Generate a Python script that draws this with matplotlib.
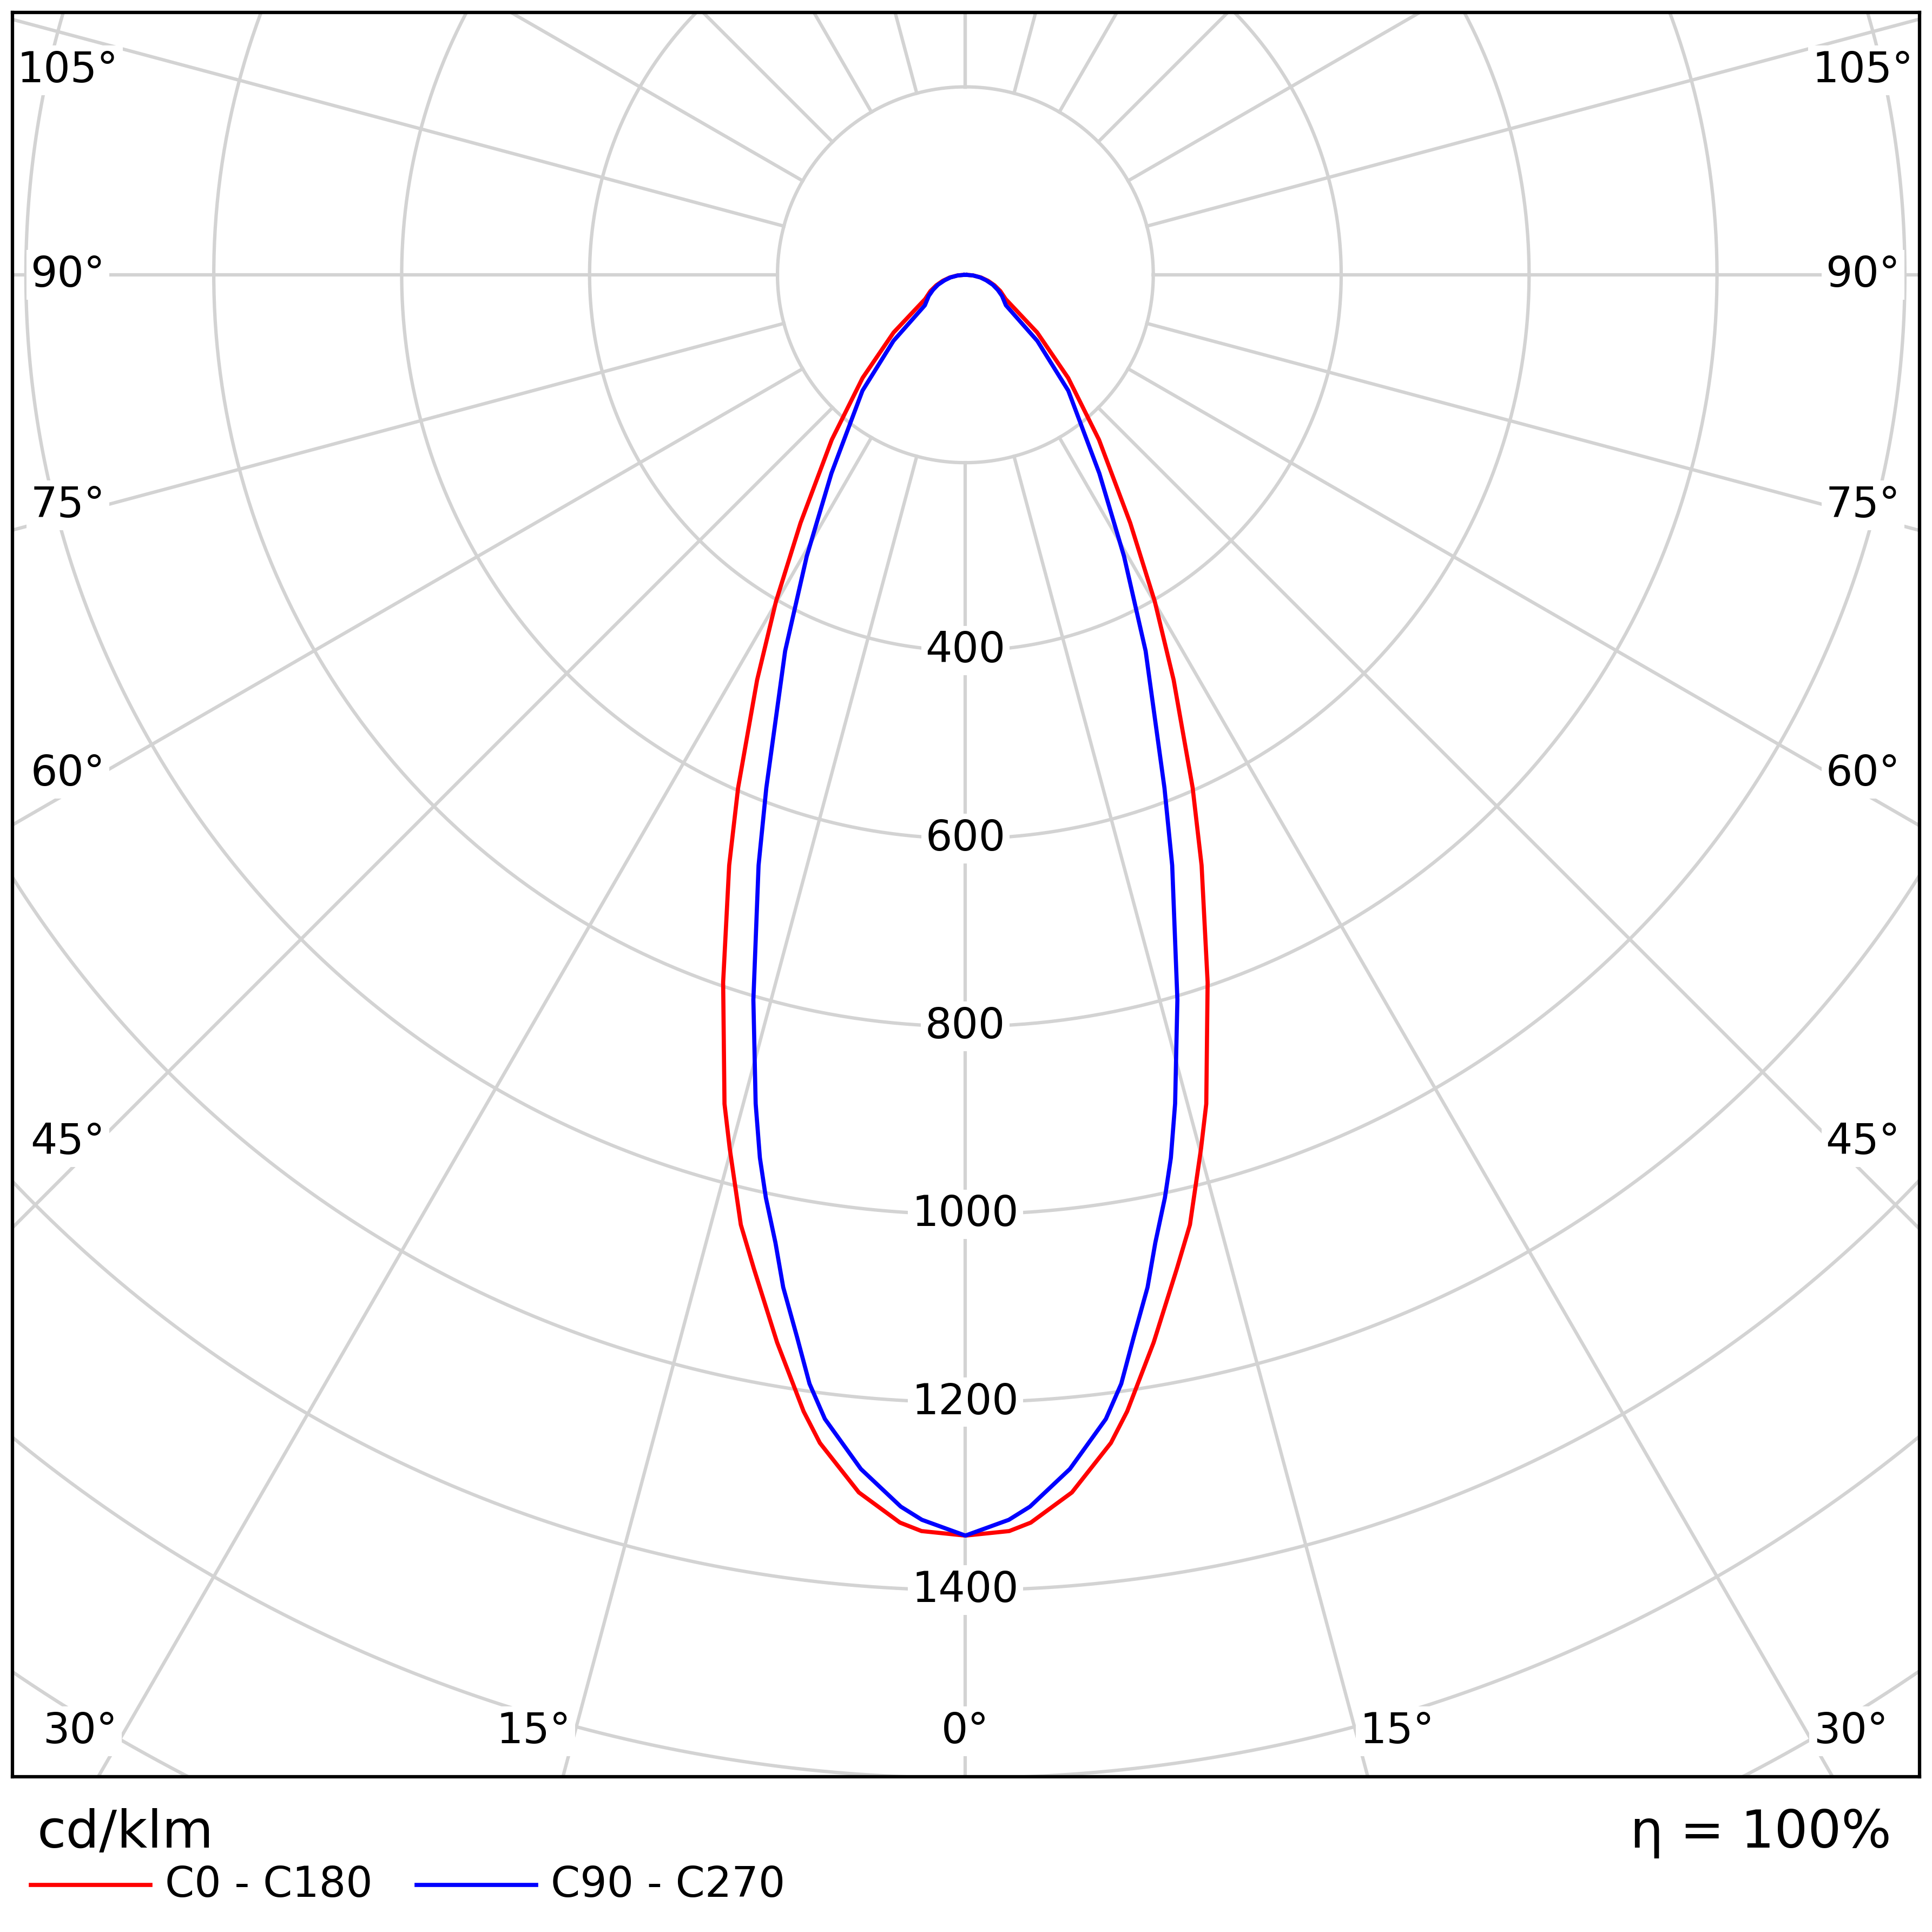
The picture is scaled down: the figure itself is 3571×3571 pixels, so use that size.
import numpy as np
import matplotlib.pyplot as plt
from matplotlib.lines import Line2D

# Luminous intensity distribution (cd/klm), gamma in degrees from nadir
gamma_c0 = [0, 2, 3, 5, 7.1, 8.1, 10, 12, 13.3, 15.1, 16.2, 18.9, 21.8, 23.9, 27.2,
            30.1, 33.6, 39, 44.9, 51.2, 58.9, 65, 70, 75, 80, 85, 90]
int_c0 = [1342, 1338, 1330, 1301, 1253, 1222, 1154, 1082, 1039, 963, 919, 796, 677, 597, 485,
          402, 317, 226, 155, 98, 50, 41, 33, 25, 17, 8.5, 0]

gamma_c90 = [0, 2, 3, 5, 7, 8, 9, 10.2, 11.1, 12.2, 13.1, 14.2, 16.3, 19.3, 21.2,
             25.6, 29.4, 34, 41.6, 47.4, 53, 60, 65, 70, 75, 80, 85, 90]
int_c90 = [1342, 1326, 1313, 1276, 1227, 1192, 1145, 1095, 1050, 1005, 965, 910, 804, 666, 586,
           444, 344, 255, 165, 104, 54, 45, 38, 31, 23, 16, 8, 0]

ring_values = [200, 400, 600, 800, 1000, 1200, 1400, 1600, 1800, 2000, 2200]
ring_labels = [400, 600, 800, 1000, 1200, 1400]
spoke_angles = list(range(-180, 181, 15))

GRID = '#d3d3d3'
W = 1568.0  # reference layout units
S = 200 / 152.5  # data units per layout px
FS = 56


def to_data(X, Y):
    return (X - 783.5) * S, -(Y - 223) * S


def polar_xy(g, r):
    g = np.radians(np.asarray(g, float))
    r = np.asarray(r, float)
    return r * np.sin(g), -r * np.cos(g)


fig = plt.figure(figsize=(35.71, 35.71), dpi=100)
ax = fig.add_axes([10 / W, 1 - 1442 / W, 1548 / W, 1432 / W])
x0, _ = to_data(10, 0)
x1, _ = to_data(1558, 0)
_, y1 = to_data(0, 10)
_, y0 = to_data(0, 1442)
ax.set_xlim(x0, x1)
ax.set_ylim(y0, y1)
ax.set_xticks([])
ax.set_yticks([])
for s in ax.spines.values():
    s.set_linewidth(4.5)
    s.set_color('black')
    s.set_zorder(10)

# grid circles and spokes
t = np.linspace(0, 2 * np.pi, 721)
for rv in ring_values:
    ax.plot(rv * np.cos(t), rv * np.sin(t), color=GRID, lw=4.5, zorder=1)
for a in spoke_angles:
    xs, ys = polar_xy([a, a], [200, 3000])
    ax.plot(xs, ys, color=GRID, lw=4.5, zorder=1)

# ring labels
for rv in ring_labels:
    ax.text(0, -rv, str(rv), ha='center', va='center', fontsize=FS, zorder=3,
            bbox=dict(boxstyle='square,pad=0.1', fc='white', ec='none'))

# angle labels
angle_labels = [('105°', 55, 57), ('90°', 55, 223), ('75°', 55, 410), ('60°', 55, 628),
                ('45°', 55, 927), ('30°', 65, 1405), ('15°', 433, 1405), ('0°', 783.5, 1405)]
for txt, X, Y in angle_labels:
    for XX in ([X, 1567 - X] if txt != '0°' else [X]):
        xd, yd = to_data(XX, Y)
        ax.text(xd, yd, txt, ha='center', va='center', fontsize=FS, zorder=3,
                bbox=dict(boxstyle='square,pad=0.1', fc='white', ec='none'))

# curves, mirrored for both halves
for g, iv, col in [(gamma_c0, int_c0, 'red'), (gamma_c90, int_c90, 'blue')]:
    g = np.array(g)
    iv = np.array(iv)
    gg = np.concatenate([-g[::-1], g[1:]])
    ii = np.concatenate([iv[::-1], iv[1:]])
    xs, ys = polar_xy(gg, ii)
    ax.plot(xs, ys, color=col, lw=5.5, zorder=5)

# legend / footer
fig.text(30 / W, 1 - 1488 / W, 'cd/klm', fontsize=70, va='center', ha='left')
fig.text(1535 / W, 1 - 1488 / W, 'η = 100%', fontsize=70, va='center', ha='right')
for xa, xb, col, lab in [(25, 122, 'red', 'C0 - C180'), (338, 435, 'blue', 'C90 - C270')]:
    fig.add_artist(Line2D([xa / W, xb / W], [1 - 1530 / W] * 2, color=col, lw=5.5))
    fig.text((xb + 12) / W, 1 - 1530 / W, lab, fontsize=FS, va='center', ha='left')

fig.savefig('out.png', dpi=100, facecolor='white')
